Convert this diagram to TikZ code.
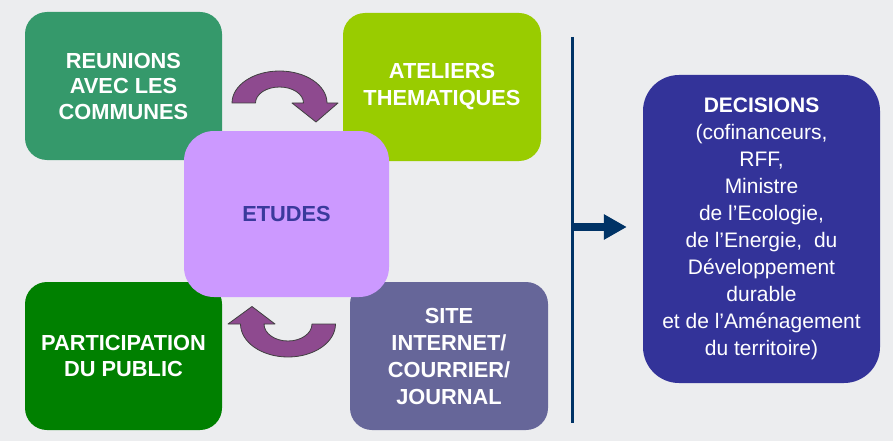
\documentclass[tikz,border=0pt]{standalone}
\usepackage{fontspec}
\setmainfont{Liberation Sans}
\usetikzlibrary{arrows.meta}
\definecolor{bgc}{HTML}{ECEDEF}
\definecolor{greenA}{HTML}{35996B}
\definecolor{limeA}{HTML}{99CC00}
\definecolor{lavA}{HTML}{CC99FF}
\definecolor{greenB}{HTML}{008000}
\definecolor{slateA}{HTML}{666699}
\definecolor{navyA}{HTML}{003366}
\definecolor{decA}{HTML}{333399}
\definecolor{purpA}{HTML}{8E4A8F}
\definecolor{etxt}{HTML}{3A3A9C}
\tikzset{
  box/.style={rectangle, rounded corners=22pt, inner sep=0pt, align=center, text=white,
    font=\bfseries\fontsize{21.8}{25.5}\selectfont},
  curvarrow/.style={fill=purpA, draw=black!75, line width=0.8pt, line join=round},
}
\begin{document}
\begin{tikzpicture}[x=1pt,y=-1pt]
\fill[bgc] (0,0) rectangle (893,441);
\useasboundingbox (0,0) rectangle (893,441);
% boxes
\node[box, fill=greenA, minimum width=197pt, minimum height=148pt] (reun) at (123.5,86)
  {REUNIONS\\AVEC LES\\COMMUNES};
\node[box, fill=limeA, minimum width=198pt, minimum height=148pt,
  font=\bfseries\fontsize{21.8}{27}\selectfont] (atel) at (442,87)
  {ATELIERS\\THEMATIQUES};
\node[box, fill=greenB, minimum width=197pt, minimum height=148pt] (part) at (123.5,356)
  {PARTICIPATION\\DU PUBLIC};
\node[box, fill=slateA, minimum width=198pt, minimum height=148pt,
  font=\bfseries\fontsize{21.8}{27}\selectfont] (site) at (449,356)
  {SITE\\INTERNET/\\COURRIER/\\JOURNAL};
\node[box, fill=lavA, rounded corners=30pt, minimum width=205pt, minimum height=166pt,
  text=etxt, font=\bfseries\fontsize{21.8}{25}\selectfont] (etud) at (286.5,214) {ETUDES};
% curved arrows
\draw[curvarrow] (232,103) arc[start angle=180, end angle=360, x radius=47.5, y radius=32]
  -- (338,103) -- (316,122) -- (292,103) -- (303.5,103)
  arc[start angle=360, end angle=180, x radius=24, y radius=16] -- cycle;
\draw[curvarrow] (335.5,324) arc[start angle=0, end angle=180, x radius=47.5, y radius=33]
  -- (228,324) -- (252,306.5) -- (275,324) -- (264,324)
  arc[start angle=180, end angle=0, x radius=24, y radius=17] -- cycle;
% decisions
\node[box, fill=decA, rounded corners=36pt, minimum width=237pt, minimum height=308pt,
  font=\fontsize{21}{27}\selectfont] (dec) at (761.5,229)
  {\textbf{DECISIONS}\\(cofinanceurs,\\RFF,\\Ministre\\de l’Ecologie,\\de l’Energie,~ du\\Développement\\durable\\et de l’Aménagement\\du territoire)};
% separator and arrow
\coordinate (vtop) at (572,37);
\coordinate (vbot) at (572,423);
\coordinate (astart) at (572,227);
\draw[navyA, line width=3pt] (vtop) -- (vbot);
\draw[navyA, line width=8pt, -{Triangle[length=23pt,width=24pt]}, shorten >=16pt] (astart) -- (dec.west |- astart);
\end{tikzpicture}
\end{document}
